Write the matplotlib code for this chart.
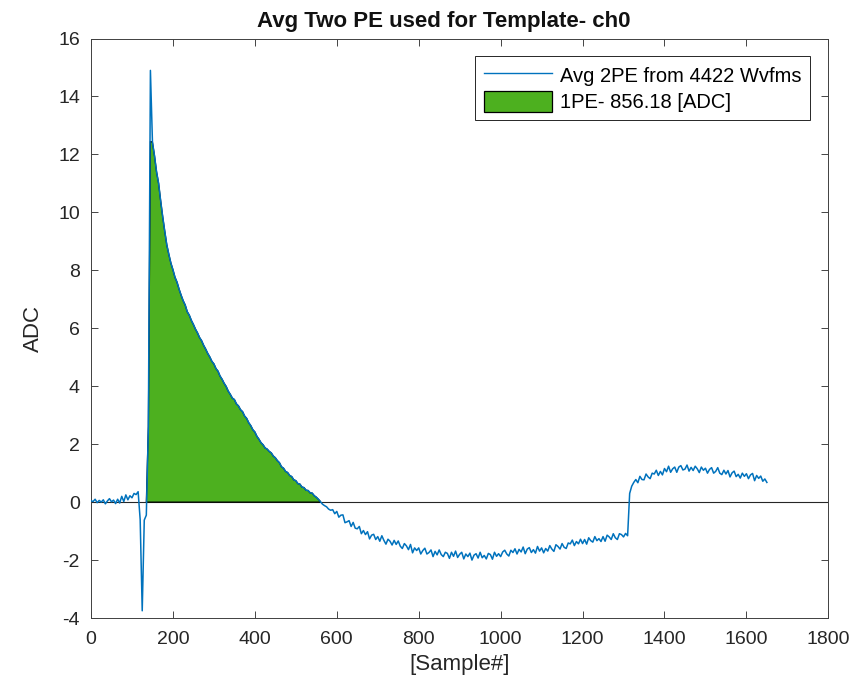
import numpy as np
import matplotlib
matplotlib.use("Agg")
import matplotlib.pyplot as plt
from matplotlib.patches import Patch
from matplotlib.lines import Line2D

plt.rcParams["font.family"] = ["Liberation Sans", "DejaVu Sans"]
plt.rcParams["axes.unicode_minus"] = False

# Averaged two-photoelectron waveform, one value every 5 samples (0 ... 1650)
SAMPLE_STEP = 5
adc = [
    # 0 - 45
    0.05, 0.02, 0.10, -0.02, 0.06, 0.00, 0.08, -0.06, 0.04, 0.12,
    # 50 - 95
    0.01, 0.07, -0.05, 0.10, -0.03, 0.20, 0.02, 0.25, 0.08, 0.22,
    # 100 - 145
    0.15, 0.30, 0.26, 0.36, -0.60, -3.75, -0.62, -0.45, 2.60, 14.90,
    # 150 - 195
    12.42, 11.95, 11.40, 11.00, 10.40, 9.85, 9.35, 8.88, 8.55, 8.25,
    # 200 - 245
    8.02, 7.76, 7.59, 7.35, 7.14, 6.95, 6.80, 6.57, 6.45, 6.27,
    # 250 - 295
    6.13, 5.97, 5.84, 5.68, 5.57, 5.41, 5.28, 5.13, 5.01, 4.86,
    # 300 - 345
    4.77, 4.61, 4.52, 4.35, 4.24, 4.10, 3.99, 3.83, 3.72, 3.59,
    # 350 - 395
    3.54, 3.39, 3.32, 3.19, 3.12, 2.97, 2.89, 2.74, 2.64, 2.50,
    # 400 - 445
    2.42, 2.27, 2.17, 2.05, 1.98, 1.87, 1.83, 1.75, 1.70, 1.59,
    # 450 - 495
    1.53, 1.43, 1.36, 1.22, 1.17, 1.06, 1.02, 0.92, 0.88, 0.77,
    # 500 - 545
    0.74, 0.64, 0.62, 0.52, 0.50, 0.41, 0.40, 0.32, 0.31, 0.22,
    # 550 - 595
    0.17, 0.10, 0.02, -0.07, -0.12, -0.16, -0.24, -0.28, -0.26, -0.40,
    # 600 - 645
    -0.32, -0.52, -0.45, -0.44, -0.71, -0.68, -0.64, -0.84, -0.70, -0.90,
    # 650 - 695
    -0.92, -0.84, -1.09, -0.98, -1.12, -1.02, -1.27, -1.14, -1.11, -1.29,
    # 700 - 745
    -1.19, -1.35, -1.16, -1.32, -1.45, -1.28, -1.35, -1.48, -1.32, -1.46,
    # 750 - 795
    -1.34, -1.52, -1.60, -1.43, -1.51, -1.64, -1.46, -1.75, -1.58, -1.67,
    # 800 - 845
    -1.58, -1.79, -1.67, -1.59, -1.79, -1.74, -1.65, -1.88, -1.70, -1.82,
    # 850 - 895
    -1.65, -1.81, -1.88, -1.73, -1.77, -1.94, -1.73, -1.87, -1.69, -1.91,
    # 900 - 945
    -1.80, -1.73, -1.96, -1.79, -1.88, -1.76, -2.00, -1.83, -1.78, -1.93,
    # 950 - 995
    -1.73, -1.92, -1.84, -1.96, -1.77, -1.81, -1.97, -1.73, -1.87, -1.78,
    # 1000 - 1045
    -1.88, -1.72, -1.66, -1.79, -1.86, -1.66, -1.74, -1.61, -1.79, -1.63,
    # 1050 - 1095
    -1.72, -1.55, -1.78, -1.62, -1.57, -1.74, -1.64, -1.76, -1.53, -1.69,
    # 1100 - 1145
    -1.58, -1.75, -1.60, -1.69, -1.50, -1.62, -1.70, -1.47, -1.53, -1.62,
    # 1150 - 1195
    -1.43, -1.56, -1.60, -1.41, -1.44, -1.31, -1.50, -1.36, -1.44, -1.28,
    # 1200 - 1245
    -1.43, -1.29, -1.45, -1.23, -1.33, -1.38, -1.19, -1.33, -1.26, -1.36,
    # 1250 - 1295
    -1.19, -1.35, -1.14, -1.20, -1.29, -1.09, -1.23, -1.29, -1.09, -1.12,
    # 1300 - 1345
    -1.20, -1.08, -1.16, 0.30, 0.55, 0.68, 0.78, 0.67, 0.89, 0.78,
    # 1350 - 1395
    0.77, 0.97, 0.87, 0.81, 1.00, 0.97, 1.10, 0.92, 1.06, 0.94,
    # 1400 - 1445
    1.16, 1.05, 1.24, 1.03, 1.15, 1.21, 1.03, 1.21, 1.26, 1.11,
    # 1450 - 1495
    1.14, 1.28, 1.07, 1.20, 1.09, 1.24, 1.15, 1.02, 1.21, 1.10,
    # 1500 - 1545
    1.17, 1.00, 1.13, 1.19, 1.00, 1.06, 1.19, 1.00, 0.95, 1.10,
    # 1550 - 1595
    0.97, 1.09, 0.87, 1.01, 1.07, 0.88, 0.96, 0.83, 1.00, 0.89,
    # 1600 - 1645
    0.98, 0.81, 0.94, 0.99, 0.74, 0.92, 0.82, 0.90, 0.72, 0.80,
    # 1650
    0.68,
]

# Integration window of the single-PE template and its settings
pe_window = (135, 560)
pe_peak = 12.45
n_waveforms = 4422
pe_integral = 856.18
channel = "ch0"

samples = np.arange(len(adc)) * SAMPLE_STEP
wave = np.array(adc)

fig = plt.figure(figsize=(8.66, 6.88), dpi=100)
ax = fig.add_axes([0.1051, 0.1017, 0.8514, 0.8423])

# filled 1PE area
sel = (samples >= pe_window[0]) & (samples <= pe_window[1])
fx = samples[sel]
fy = np.clip(wave[sel], 0, pe_peak)
poly_x = np.concatenate([[fx[0]], fx, [fx[-1]]])
poly_y = np.concatenate([[0], fy, [0]])
ax.fill(poly_x, poly_y, facecolor="#4DB01F", edgecolor="black", linewidth=0.9, zorder=2)

# averaged waveform
ax.plot(samples, wave, color="#0072BD", linewidth=1.1, zorder=3)

# baseline
ax.axhline(0, color="#262626", linewidth=0.8, zorder=1)

ax.set_xlim(0, 1800)
ax.set_ylim(-4, 16)
ax.set_xticks(np.arange(0, 1801, 200))
ax.set_yticks(np.arange(-4, 17, 2))
ax.tick_params(direction="in", length=5, width=0.6, top=True, right=True,
               labelsize=14, colors="#262626")
ax.tick_params(axis="x", pad=9)
ax.tick_params(axis="y", pad=8)
for s in ax.spines.values():
    s.set_linewidth(0.7)
    s.set_color("#404040")

ax.set_title(f"Avg Two PE used for Template- {channel}", fontsize=16,
             fontweight="bold", color="#111111", pad=8, x=0.478)
ax.set_xlabel("[Sample#]", fontsize=16, color="#262626", labelpad=5)
ax.set_ylabel("ADC", fontsize=16, color="#262626", labelpad=10)

handles = [
    Line2D([], [], color="#0072BD", linewidth=1.0),
    Patch(facecolor="#4DB01F", edgecolor="black", linewidth=0.9),
]
labels = [f"Avg 2PE from {n_waveforms} Wvfms", f"1PE- {pe_integral:.2f} [ADC]"]
leg = ax.legend(handles, labels, loc="upper right", fontsize=14.5, frameon=True,
                fancybox=False, edgecolor="#262626", framealpha=1,
                handlelength=3.4, handleheight=1.25, borderpad=0.42,
                labelspacing=0.25, handletextpad=0.4, borderaxespad=0,
                bbox_to_anchor=(0.9755, 0.9705))
leg.get_frame().set_linewidth(0.7)

fig.savefig("out.png", dpi=100)
